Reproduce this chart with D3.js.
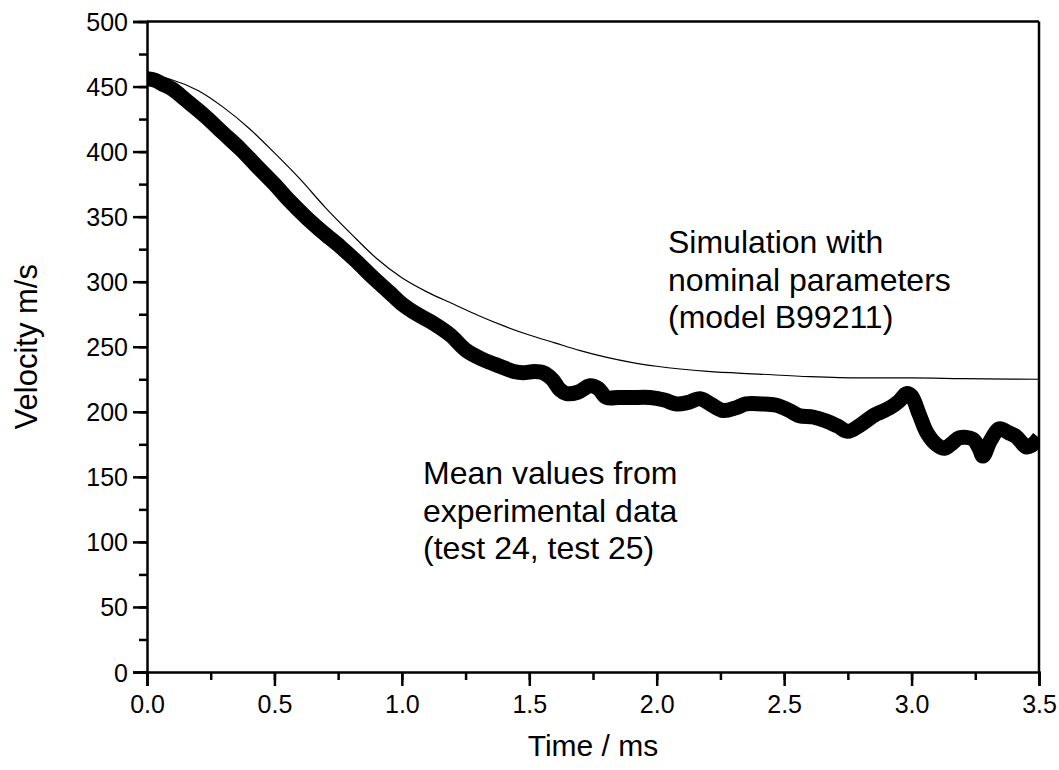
<!DOCTYPE html>
<html>
<head>
<meta charset="utf-8">
<script src="https://cdn.jsdelivr.net/npm/d3@7"></script>
<style>
  html, body { margin: 0; padding: 0; background: #fff; }
  svg { display: block; font-family: "Liberation Sans", Arial, sans-serif; }
</style>
</head>
<body>
<svg id="chart" width="1059" height="770"></svg>
<script>
// Simulated velocity (nominal parameters, model B99211)
const simTime = [0, 0.05, 0.1, 0.2, 0.3, 0.4, 0.5, 0.6, 0.7, 0.8, 0.9, 1.0, 1.1, 1.2, 1.3, 1.4, 1.5, 1.6, 1.7, 1.8, 1.9, 2.0, 2.2, 2.4, 2.6, 2.8, 3.0, 3.2, 3.5];
const simVelocity = [458, 457.5, 455, 447, 434, 418, 399, 379, 357, 337, 318, 303, 292, 283, 274, 266, 259, 253, 247, 242, 238, 235, 231, 229, 227, 226, 226, 225.5, 225];

// Mean of experimental tests 24 and 25
const expTime = [0, 0.03, 0.06, 0.1, 0.15, 0.2, 0.235, 0.3, 0.366, 0.43, 0.5, 0.56, 0.627, 0.69, 0.758, 0.82, 0.888, 0.95, 1.0, 1.06, 1.124, 1.19, 1.254, 1.32, 1.385, 1.44, 1.476, 1.52, 1.555, 1.59, 1.62, 1.646, 1.69, 1.738, 1.77, 1.803, 1.85, 1.9, 1.973, 2.03, 2.078, 2.12, 2.17, 2.21, 2.26, 2.31, 2.35, 2.41, 2.47, 2.52, 2.56, 2.613, 2.665, 2.71, 2.75, 2.8, 2.85, 2.914, 2.95, 2.98, 3.0, 3.03, 3.06, 3.097, 3.13, 3.16, 3.188, 3.24, 3.265, 3.28, 3.31, 3.345, 3.38, 3.41, 3.45, 3.47, 3.5];
const expVelocity = [456, 455, 452, 448, 440, 432, 426, 414, 402, 389, 375, 362, 349, 338, 327, 316, 303, 292, 283, 275, 268, 259, 247, 240, 235, 231, 230, 231, 230, 225, 217, 214, 215, 220, 218, 211, 211, 211, 211, 209, 206, 207, 210, 206, 201, 203, 206, 206, 205, 201, 197, 196, 193, 189, 185, 190, 197, 203, 208, 214, 212, 198, 184, 175, 172, 176, 180, 179, 172, 166, 178, 187, 184, 181, 173, 174, 180];

const xTicks = [0, 0.5, 1.0, 1.5, 2.0, 2.5, 3.0, 3.5];
const yTicks = [0, 50, 100, 150, 200, 250, 300, 350, 400, 450, 500];

const simLabel = ["Simulation with", "nominal parameters", "(model B99211)"];
const expLabel = ["Mean values from", "experimental data", "(test 24, test 25)"];

const W = 1059, H = 770;
const margin = { left: 147, right: 20, top: 21.5, bottom: 98 };
const iw = W - margin.left - margin.right;
const ih = H - margin.top - margin.bottom;

const svg = d3.select("#chart");
const g = svg.append("g").attr("transform", `translate(${margin.left},${margin.top})`);

const x = d3.scaleLinear().domain([0, 3.5]).range([0, iw]);
const y = d3.scaleLinear().domain([0, 500]).range([ih, 0]);

svg.append("defs").append("clipPath").attr("id", "plot-clip")
  .append("rect").attr("x", 0).attr("y", -20).attr("width", iw).attr("height", ih + 40);

// frame: top and right edges
g.append("line").attr("x1", 0).attr("x2", iw).attr("y1", 0).attr("y2", 0)
  .attr("stroke", "#000").attr("stroke-width", 2.5);
g.append("line").attr("x1", iw).attr("x2", iw).attr("y1", 0).attr("y2", ih)
  .attr("stroke", "#000").attr("stroke-width", 2.5);

// minor ticks
const xMinor = d3.range(0, 3.5001, 0.25);
const yMinor = d3.range(0, 500.001, 25);

const xAxisMinor = g.append("g").attr("transform", `translate(0,${ih})`)
  .call(d3.axisBottom(x).tickValues(xMinor).tickSize(8).tickFormat(""));
const yAxisMinor = g.append("g")
  .call(d3.axisLeft(y).tickValues(yMinor).tickSize(8).tickFormat(""));

const xAxis = g.append("g").attr("transform", `translate(0,${ih})`)
  .call(d3.axisBottom(x).tickValues(xTicks).tickSize(14).tickPadding(9).tickFormat(d3.format(".1f")));
const yAxis = g.append("g")
  .call(d3.axisLeft(y).tickValues(yTicks).tickSize(14).tickPadding(5).tickFormat(d3.format("d")));

[xAxisMinor, yAxisMinor, xAxis, yAxis].forEach(a => {
  a.select(".domain").attr("stroke", "#000").attr("stroke-width", 2.5);
  a.selectAll(".tick line").attr("stroke", "#000").attr("stroke-width", 2.5);
  a.selectAll(".tick text").attr("fill", "#000").style("font-size", "25px")
    .style("font-family", "'Liberation Sans', Arial, sans-serif");
});
xAxisMinor.select(".domain").remove();
yAxisMinor.select(".domain").remove();
yAxis.selectAll(".tick text").attr("dy", "0.36em");

// experimental mean: heavy line
const expData = expTime.map((t, i) => ({ t, v: expVelocity[i] }));
g.append("path")
  .datum(expData)
  .attr("clip-path", "url(#plot-clip)")
  .attr("fill", "none")
  .attr("stroke", "#000")
  .attr("stroke-width", 15)
  .attr("stroke-linejoin", "round")
  .attr("stroke-linecap", "butt")
  .attr("d", d3.line().x(d => x(d.t)).y(d => y(d.v)).curve(d3.curveCatmullRom.alpha(0.5)));

// simulation: thin line
const simData = simTime.map((t, i) => ({ t, v: simVelocity[i] }));
g.append("path")
  .datum(simData)
  .attr("fill", "none")
  .attr("stroke", "#000")
  .attr("stroke-width", 1.2)
  .attr("d", d3.line().x(d => x(d.t)).y(d => y(d.v)).curve(d3.curveMonotoneX));

// annotations
const ann = (lines, x0, y0, dy) => {
  const t = svg.append("text").attr("x", x0).attr("y", y0)
    .style("font-size", "32px").attr("fill", "#000");
  lines.forEach((s, i) => t.append("tspan").attr("x", x0).attr("y", y0 + i * dy).text(s));
};
ann(simLabel, 668, 253, 37.5);
ann(expLabel, 423, 484, 37.5);

// axis titles
svg.append("text")
  .attr("x", margin.left + iw / 2).attr("y", 756)
  .attr("text-anchor", "middle")
  .style("font-size", "30px").attr("fill", "#000")
  .text("Time / ms");
svg.append("text")
  .attr("transform", `translate(37,${margin.top + ih / 2}) rotate(-90)`)
  .attr("text-anchor", "middle")
  .style("font-size", "31px").attr("fill", "#000")
  .text("Velocity m/s");
</script>
</body>
</html>
